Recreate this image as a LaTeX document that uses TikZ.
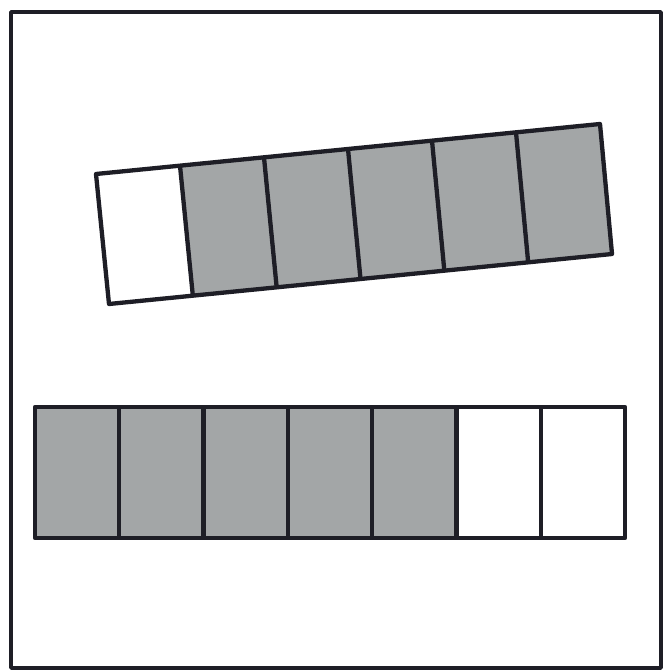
\documentclass[tikz,border=0pt]{standalone}
\usetikzlibrary{calc}
\definecolor{cellgray}{RGB}{163,166,167}
\definecolor{ink}{RGB}{30,30,38}
\tikzset{
  frame/.style={draw=ink, line width=3.8pt, line join=round},
  stripline/.style={draw=ink, line width=4.3pt, line join=round},
  grayfill/.style={fill=cellgray},
}
\begin{document}
\begin{tikzpicture}[x=1pt,y=-1pt]
\useasboundingbox (0,0) rectangle (663,671);
\fill[white] (0,0) rectangle (663,671);
\draw[frame] (11,12) rectangle (661,668);
% top tilted strip
\coordinate (TL) at (96,174);
\coordinate (TR) at (600,124);
\coordinate (BL) at (109,304);
\coordinate (BR) at (612,254);
\foreach \i in {1,...,5}{
  \pgfmathsetmacro{\a}{\i/6}
  \pgfmathsetmacro{\b}{(\i+1)/6}
  \fill[grayfill] ($(TL)!\a!(TR)$) -- ($(TL)!\b!(TR)$) -- ($(BL)!\b!(BR)$) -- ($(BL)!\a!(BR)$) -- cycle;
}
\foreach \i in {1,...,5}{
  \pgfmathsetmacro{\a}{\i/6}
  \draw[stripline] ($(TL)!\a!(TR)$) -- ($(BL)!\a!(BR)$);
}
\draw[stripline] (TL) -- (TR) -- (BR) -- (BL) -- cycle;
% bottom strip
\coordinate (L1) at (35,407);
\coordinate (R1) at (625,407);
\coordinate (L2) at (35,538);
\coordinate (R2) at (625,538);
\foreach \i in {0,...,4}{
  \pgfmathsetmacro{\a}{\i/7}
  \pgfmathsetmacro{\b}{(\i+1)/7}
  \fill[grayfill] ($(L1)!\a!(R1)$) -- ($(L1)!\b!(R1)$) -- ($(L2)!\b!(R2)$) -- ($(L2)!\a!(R2)$) -- cycle;
}
\foreach \i in {1,...,6}{
  \pgfmathsetmacro{\a}{\i/7}
  \draw[stripline] ($(L1)!\a!(R1)$) -- ($(L2)!\a!(R2)$);
}
\draw[stripline] (L1) -- (R1) -- (R2) -- (L2) -- cycle;
\end{tikzpicture}
\end{document}
